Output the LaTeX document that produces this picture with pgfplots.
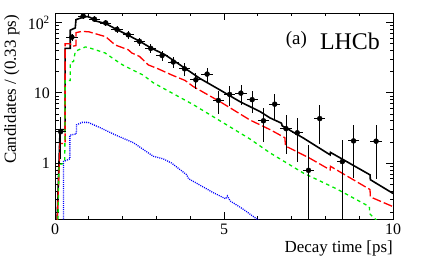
\documentclass[border=0pt]{standalone}
\usepackage{fontspec}
\setmainfont{Liberation Serif}
\usepackage{pgfplots}
\pgfplotsset{compat=1.18}
\begin{document}
\begin{tikzpicture}
\path[use as bounding box] (0,0) rectangle (427bp,261bp);
\begin{axis}[
  at={(55bp,42bp)}, anchor=south west,
  scale only axis, width=338bp, height=206bp,
  ymode=log, xmin=0, xmax=10, ymin=0.16, ymax=137,
  xtick={0,5,10}, xticklabels={0,5,10},
  minor xtick={1,2,3,4,6,7,8,9},
  ytick={1,10,100}, yticklabels={1,10,10\textsuperscript{2}},
  minor ytick={0.2,0.3,0.4,0.5,0.6,0.7,0.8,0.9,2,3,4,5,6,7,8,9,20,30,40,50,60,70,80,90},
  tick align=inside, tick pos=both, xticklabel pos=lower, yticklabel pos=left,
  major tick length=7bp, minor tick length=3.5bp,
  tick style={black, line width=0.8bp},
  axis line style={line width=0.8bp},
  ticklabel style={font=\fontsize{16}{16}\selectfont},
  xticklabel style={inner sep=0pt, yshift=-5bp},
  yticklabel style={inner sep=0pt, xshift=-5bp},
  xlabel={Decay time [ps]},
  xlabel style={at={(axis description cs:1,-0.1602)}, anchor=base east, inner sep=0pt, font=\fontsize{17}{17}\selectfont},
  ylabel={Candidates / (0.33 ps)},
  ylabel style={at={(axis description cs:-0.1154,0.99)}, anchor=base east, inner sep=0pt, font=\fontsize{17}{17}\selectfont},
]
\addplot[black, line width=1.6bp] coordinates {
(0.05,0.1) (0.15,3.0) (0.3,3.0) (0.3,43) (0.45,43) (0.45,78) (0.6,84) (0.62,110) (0.8,118) (0.95,122) (1.05,118) (1.18,106) (1.5,97) (1.82,80) (2.17,66) (2.51,54) (2.86,43) (3.25,35) (3.7,25) (4.29,16) (4.88,11) (5.47,7.5) (6.07,5.4) (6.36,4.4) (6.7,3.7) (6.72,3.4) (7.35,2.27) (8.14,1.31) (8.15,1.42) (9.32,0.68) (9.33,0.58) (10,0.37)
};
\addplot[red, line width=1.3bp, dash pattern=on 9bp off 3bp] coordinates {
(0.05,0.1) (0.15,1.9) (0.3,1.9) (0.3,50) (0.45,50) (0.5,46) (0.62,47) (0.62,72) (0.8,75) (1.0,74) (1.5,63) (1.78,48) (2.17,41) (2.27,37) (2.5,33) (2.76,25) (3.05,22) (3.45,18) (3.85,15) (4.09,12.3) (4.88,7.5) (5.77,4.1) (6.36,3.0) (6.8,2.3) (6.82,1.75) (7.5,1.2) (8.14,0.8) (8.15,0.9) (9.32,0.42) (9.33,0.33) (10,0.24)
};
\addplot[color={rgb,255:red,0;green,235;blue,0}, line width=1.3bp, dash pattern=on 3.5bp off 3.5bp] coordinates {
(0.08,0.1) (0.12,0.95) (0.29,1.0) (0.3,15) (0.45,15) (0.45,27) (0.55,28) (0.6,39) (0.75,42) (0.9,45) (1.0,44) (1.48,37) (1.8,29) (2.0,25) (2.4,20) (2.6,18) (2.9,14) (3.11,12.3) (4.09,6.8) (5.08,3.5) (5.77,2.2) (6.36,1.4) (7.35,0.72) (8.33,0.43) (9.3,0.24) (9.31,0.19) (9.6,0.14)
};
\addplot[blue, line width=1.3bp, dash pattern=on 1bp off 1.1bp] coordinates {
(0.25,0.1) (0.25,1.05) (0.44,1.15) (0.44,2.5) (0.63,2.6) (0.64,3.5) (0.8,3.8) (0.98,3.8) (1.33,3.2) (1.8,2.5) (2.32,1.95) (2.91,1.25) (3.2,1.15) (3.45,1.0) (3.9,0.68) (3.95,0.6) (4.68,0.38) (5.05,0.31) (5.1,0.34) (5.18,0.29) (5.57,0.22) (5.97,0.16) (6.1,0.145)
};
\addplot[black, only marks, mark=*, mark size=2.5bp,
  error bars/.cd, x dir=both, y dir=both, x explicit, y explicit,
  error bar style={line width=0.8bp}, error mark=none] coordinates {
(0.167,2.8) +- (0.167,1.67)
(0.5,62) +- (0.167,7.9)
(0.833,124) +- (0.167,11)
(1.167,112) +- (0.167,10.6)
(1.5,99) +- (0.167,10)
(1.833,80) +- (0.167,9)
(2.167,67) +- (0.167,8.2)
(2.5,54) +- (0.167,7.3)
(2.833,43) +- (0.167,6.6)
(3.167,34) +- (0.167,5.8)
(3.5,27.5) +- (0.167,5.2)
(3.833,22) +- (0.167,4.7)
(4.167,15.3) +- (0.167,3.9)
(4.5,18.5) +- (0.167,4.3)
(4.833,7.8) +- (0.167,2.8)
(5.167,9.5) +- (0.167,3.1)
(5.5,9.9) +- (0.167,3.1)
(5.833,8.0) +- (0.167,2.8)
(6.167,4.0) +- (0.167,2.0)
(6.5,6.9) +- (0.167,2.6)
(6.833,3.1) +- (0.167,1.76)
(7.167,2.7) +- (0.167,1.65)
(7.5,0.79) += (0.167,1.0) -= (0.167,0.78)
(7.833,4.3) +- (0.167,2.4)
(8.5,1.05) += (0.167,1.1) -= (0.167,1.04)
(8.833,2.07) +- (0.167,1.45)
(9.5,2.05) +- (0.167,1.45)
};
\node[anchor=base east, inner sep=0pt, font=\fontsize{24}{24}\selectfont] at (rel axis cs:0.9615,0.8238) {LHCb};
\node[anchor=base east, inner sep=0pt, font=\fontsize{19}{19}\selectfont] at (rel axis cs:0.7456,0.8447) {(a)};
\end{axis}
\end{tikzpicture}
\end{document}
